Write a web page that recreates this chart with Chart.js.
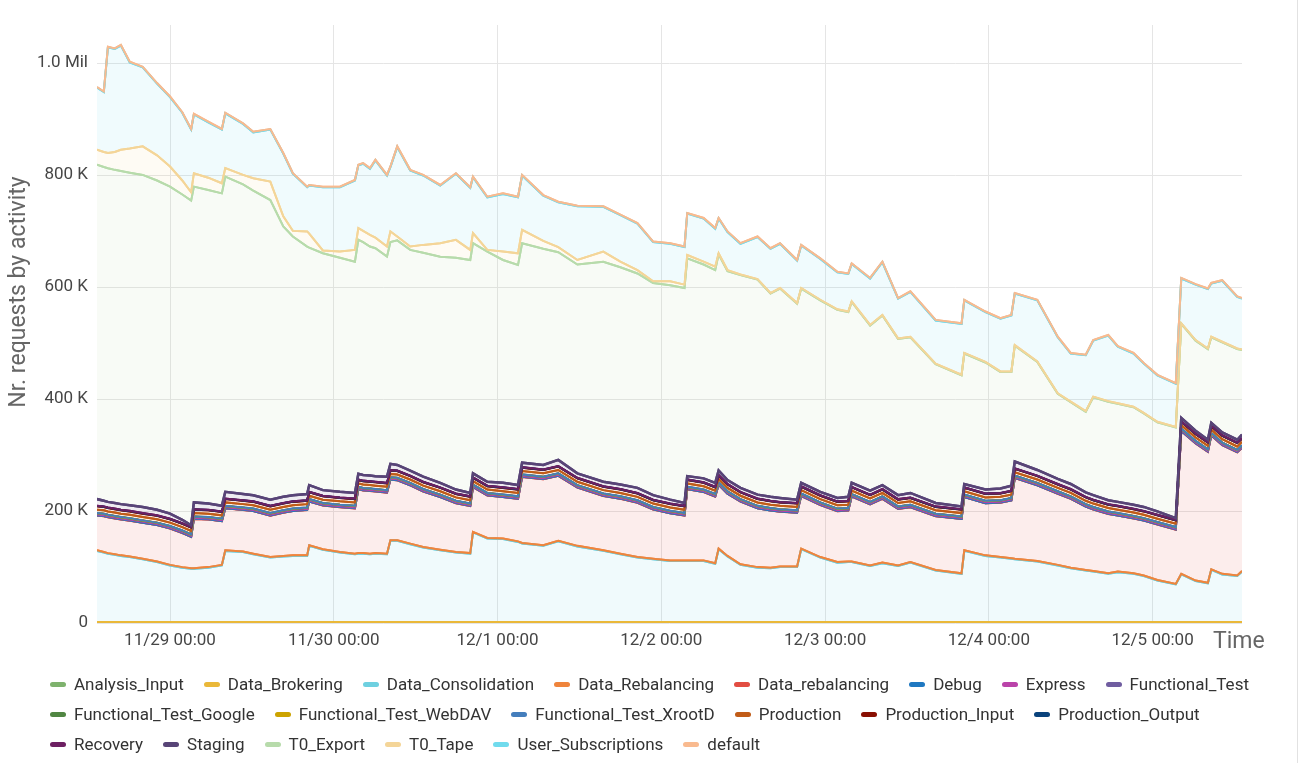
<!DOCTYPE html>
<html>
<head>
<meta charset="utf-8">
<title>Nr. requests by activity</title>
<script src="https://cdn.jsdelivr.net/npm/chart.js@4.4.0/dist/chart.umd.min.js"></script>
<style>
  html, body { margin: 0; padding: 0; background: #fff; overflow: hidden; }
  #wrap { position: relative; width: 1309px; height: 763px; }
  #edge { position: absolute; left: 1297px; top: 0; width: 1px; height: 763px; background: #e2e2e2; }
  #legend { position: absolute; left: 50px; top: 669px; width: 1259px; display: flex; flex-wrap: wrap;
    font: 17px Roboto, sans-serif; color: #333; }
  #legend .item { display: flex; align-items: center; height: 30px; margin-right: 20px; white-space: nowrap; }
  #legend .mark { width: 16px; height: 5px; border-radius: 2.5px; margin-right: 8px; }
</style>
</head>
<body>
<div id="wrap">
  <canvas id="chart" width="1309" height="763"></canvas>
  <div id="legend"></div>
  <div id="edge"></div>
</div>
<script>
// time in hours from 11/29 00:00
const times = [-10.7,-9.7,-9.1,-8.1,-7.2,-5.9,-4.0,-1.9,0,1.8,3.1,3.5,5.6,7.6,8.1,10.7,12.2,14.7,16.6,18.0,
  20.1,20.4,22.4,24.9,27.1,27.6,28.3,29.3,30.1,31.8,32.3,33.3,35.2,37.1,39.6,41.9,44.0,44.4,46.5,48.8,
  51.0,51.6,54.7,56.9,59.7,63.5,66.0,68.5,70.8,73.3,75.4,75.8,78.2,79.9,80.4,81.7,83.6,86.1,88.0,89.4,
  91.9,92.5,95.3,97.8,99.4,99.9,102.6,104.4,106.7,108.5,112.2,116.0,116.4,119.5,121.7,123.3,123.8,127.1,130.1,132.0,
  134.2,135.3,137.5,138.9,141.2,142.7,144.7,147.4,148.2,150.3,152.1,152.6,154.2,156.4,157.1];

const dayTicks = [0, 24, 48, 72, 96, 120, 144];
const dayLabels = ["11/29 00:00", "11/30 00:00", "12/1 00:00", "12/2 00:00", "12/3 00:00", "12/4 00:00", "12/5 00:00"];
const yTicks = [0, 200, 400, 600, 800, 1000];

// values in thousands of requests
const analysisInput = [0.3,0.3,0.3,0.3,0.3,0.3,0.3,0.3,0.3,0.3,0.3,0.3,0.3,0.3,0.3,0.3,0.3,0.3,0.3,0.3,
  0.3,0.3,0.3,0.3,0.3,0.3,0.3,0.3,0.3,0.3,0.3,0.3,0.3,0.3,0.3,0.3,0.3,0.3,0.3,0.3,
  0.3,0.3,0.3,0.3,0.3,0.3,0.3,0.3,0.3,0.3,0.3,0.3,0.3,0.3,0.3,0.3,0.3,0.3,0.3,0.3,
  0.3,0.3,0.3,0.3,0.3,0.3,0.3,0.3,0.3,0.3,0.3,0.3,0.3,0.3,0.3,0.3,0.3,0.3,0.3,0.3,
  0.3,0.3,0.3,0.3,0.3,0.3,0.3,0.3,0.3,0.3,0.3,0.3,0.3,0.3,0.3];
const dataBrokering = [1.5,1.5,1.5,1.5,1.5,1.5,1.5,1.5,1.5,1.5,1.5,1.5,1.5,1.5,1.5,1.5,1.5,1.5,1.5,1.5,
  1.5,1.5,1.5,1.5,1.5,1.5,1.5,1.5,1.5,1.5,1.5,1.5,1.5,1.5,1.5,1.5,1.5,1.5,1.5,1.5,
  1.5,1.5,1.5,1.5,1.5,1.5,1.5,1.5,1.5,1.5,1.5,1.5,1.5,1.5,1.5,1.5,1.5,1.5,1.5,1.5,
  1.5,1.5,1.5,1.5,1.5,1.5,1.5,1.5,1.5,1.5,1.5,1.5,1.5,1.5,1.5,1.5,1.5,1.5,1.5,1.5,
  1.5,1.5,1.5,1.5,1.5,1.5,1.5,1.5,1.5,1.5,1.5,1.5,1.5,1.5,1.5];
const dataConsolidation = [127,124,122,120,118,116,112,107,101,97,95,95,97,101,127,125,121,115,117,118,
  118,136,129,124,121,122,122,121,122,121,145,145,139,133,128,124,122,160,149,148,
  143,140,136,144,135,127,121,115,112,109,109,109,109,104,130,117,102,97,96,98,
  98,130,115,106,107,107,100,105,100,106,92,86,127,118,115,113,112,108,101,96,
  92,90,86,89,86,82,74,67,85,73,69,93,85,82,90];
const dataRebalancingUpper = [1,1,1,1,1,1,1,1,1,1,1,1,1,1,1,1,1,1,1,1,
  1,1,1,1,1,1,1,1,1,1,1,1,1,1,1,1,1,1,1,1,
  1,1,1,1,1,1,1,1,1,1,1,1,1,1,1,1,1,1,1,1,
  1,1,1,1,1,1,1,1,1,1,1,1,1,1,1,1,1,1,1,1,
  1,1,1,1,1,1,1,1,1,1,1,1,1,1,1];
const dataRebalancingLower = [62,64,64,64,64,64,64,65,65,61,56,88,85,78,75,74,76,74,77,79,
  81,78,78,80,81,114,112,112,110,109,108,107,104,99,94,87,84,80,76,74,
  76,118,118,116,104,97,98,97,88,84,80,127,122,119,114,111,112,105,102,98,
  96,94,93,91,91,116,109,114,101,98,96,97,95,93,97,103,144,135,127,123,
  113,110,106,100,98,98,99,97,255,245,234,239,230,220,220];
const debug = [0.3,0.3,0.3,0.3,0.3,0.3,0.3,0.3,0.3,0.3,0.3,0.3,0.3,0.3,0.3,0.3,0.3,0.3,0.3,0.3,
  0.3,0.3,0.3,0.3,0.3,0.3,0.3,0.3,0.3,0.3,0.3,0.3,0.3,0.3,0.3,0.3,0.3,0.3,0.3,0.3,
  0.3,0.3,0.3,0.3,0.3,0.3,0.3,0.3,0.3,0.3,0.3,0.3,0.3,0.3,0.3,0.3,0.3,0.3,0.3,0.3,
  0.3,0.3,0.3,0.3,0.3,0.3,0.3,0.3,0.3,0.3,0.3,0.3,0.3,0.3,0.3,0.3,0.3,0.3,0.3,0.3,
  0.3,0.3,0.3,0.3,0.3,0.3,0.3,0.3,0.3,0.3,0.3,0.3,0.3,0.3,0.3];
const express = [1.5,1.5,1.5,1.5,1.5,1.5,1.5,1.5,1.5,1.5,1.5,1.5,1.5,1.5,1.5,1.5,1.5,1.5,1.5,1.5,
  1.5,1.5,1.5,1.5,1.5,1.5,1.5,1.5,1.5,1.5,1.5,1.5,1.5,1.5,1.5,1.5,1.5,1.5,1.5,1.5,
  1.5,1.5,1.5,1.5,1.5,1.5,1.5,1.5,1.5,1.5,1.5,1.5,1.5,1.5,1.5,1.5,1.5,1.5,1.5,1.5,
  1.5,1.5,1.5,1.5,1.5,1.5,1.5,1.5,1.5,1.5,1.5,1.5,1.5,1.5,1.5,1.5,1.5,1.5,1.5,1.5,
  1.5,1.5,1.5,1.5,1.5,1.5,1.5,1.5,1.5,1.5,1.5,1.5,1.5,1.5,1.5];
const functionalTest = [2,2,2,2,2,2,2,2,2,2,2,2,2,2,2,2,2,2,2,2,
  2,2,2,2,2,2,2,2,2,2,2,2,2,2,2,2,2,2,2,2,
  2,2,2,2,2,2,2,2,2,2,2,2,2,2,2,2,2,2,2,2,
  2,2,2,2,2,2,2,2,2,2,2,2,2,2,2,2,2,2,2,2,
  2,2,2,2,2,2,2,2,2,2,2,2,2,2,2];
const ftGoogle = [0.2,0.2,0.2,0.2,0.2,0.2,0.2,0.2,0.2,0.2,0.2,0.2,0.2,0.2,0.2,0.2,0.2,0.2,0.2,0.2,
  0.2,0.2,0.2,0.2,0.2,0.2,0.2,0.2,0.2,0.2,0.2,0.2,0.2,0.2,0.2,0.2,0.2,0.2,0.2,0.2,
  0.2,0.2,0.2,0.2,0.2,0.2,0.2,0.2,0.2,0.2,0.2,0.2,0.2,0.2,0.2,0.2,0.2,0.2,0.2,0.2,
  0.2,0.2,0.2,0.2,0.2,0.2,0.2,0.2,0.2,0.2,0.2,0.2,0.2,0.2,0.2,0.2,0.2,0.2,0.2,0.2,
  0.2,0.2,0.2,0.2,0.2,0.2,0.2,0.2,0.2,0.2,0.2,0.2,0.2,0.2,0.2];
const ftWebdav = [0.2,0.2,0.2,0.2,0.2,0.2,0.2,0.2,0.2,0.2,0.2,0.2,0.2,0.2,0.2,0.2,0.2,0.2,0.2,0.2,
  0.2,0.2,0.2,0.2,0.2,0.2,0.2,0.2,0.2,0.2,0.2,0.2,0.2,0.2,0.2,0.2,0.2,0.2,0.2,0.2,
  0.2,0.2,0.2,0.2,0.2,0.2,0.2,0.2,0.2,0.2,0.2,0.2,0.2,0.2,0.2,0.2,0.2,0.2,0.2,0.2,
  0.2,0.2,0.2,0.2,0.2,0.2,0.2,0.2,0.2,0.2,0.2,0.2,0.2,0.2,0.2,0.2,0.2,0.2,0.2,0.2,
  0.2,0.2,0.2,0.2,0.2,0.2,0.2,0.2,0.2,0.2,0.2,0.2,0.2,0.2,0.2];
const ftXrootd = [0.3,0.3,0.3,0.3,0.3,0.3,0.3,0.3,0.3,0.3,0.3,0.3,0.3,0.3,0.3,0.3,0.3,0.3,0.3,0.3,
  0.3,0.3,0.3,0.3,0.3,0.3,0.3,0.3,0.3,0.3,0.3,0.3,0.3,0.3,0.3,0.3,0.3,0.3,0.3,0.3,
  0.3,0.3,0.3,0.3,0.3,0.3,0.3,0.3,0.3,0.3,0.3,0.3,0.3,0.3,0.3,0.3,0.3,0.3,0.3,0.3,
  0.3,0.3,0.3,0.3,0.3,0.3,0.3,0.3,0.3,0.3,0.3,0.3,0.3,0.3,0.3,0.3,0.3,0.3,0.3,0.3,
  0.3,0.3,0.3,0.3,0.3,0.3,0.3,0.3,0.3,0.3,0.3,0.3,0.3,0.3,0.3];
const production = [6,6,6,6,6,6,6,6,6,6,6,6,6,6,6,6,6,6,6,6,
  6,6,6,6,6,6,6,6,6,6,6,6,6,6,6,6,6,6,6,6,
  6,6,6,6,6,6,6,6,6,6,6,6,6,6,6,6,6,6,6,6,
  6,6,6,6,6,6,6,6,6,6,6,6,6,6,6,6,6,6,6,6,
  6,6,6,6,6,6,6,6,6,6,6,6,6,6,6];
const productionInput = [6,6,6,6,6,6,6,6,6,6,6,6,6,6,6,6,6,6,6,6,
  6,6,6,6,6,6,6,6,6,6,6,6,6,6,6,6,6,6,6,6,
  6,6,6,6,6,6,6,6,6,6,6,6,6,6,6,6,6,6,6,6,
  6,6,6,6,6,6,6,6,6,6,6,6,6,6,6,6,6,6,6,6,
  6,6,6,6,6,6,6,6,6,6,6,6,6,6,6];
const productionOutput = [0.5,0.5,0.5,0.5,0.5,0.5,0.5,0.5,0.5,0.5,0.5,0.5,0.5,0.5,0.5,0.5,0.5,0.5,0.5,0.5,
  0.5,0.5,0.5,0.5,0.5,0.5,0.5,0.5,0.5,0.5,0.5,0.5,0.5,0.5,0.5,0.5,0.5,0.5,0.5,0.5,
  0.5,0.5,0.5,0.5,0.5,0.5,0.5,0.5,0.5,0.5,0.5,0.5,0.5,0.5,0.5,0.5,0.5,0.5,0.5,0.5,
  0.5,0.5,0.5,0.5,0.5,0.5,0.5,0.5,0.5,0.5,0.5,0.5,0.5,0.5,0.5,0.5,0.5,0.5,0.5,0.5,
  0.5,0.5,0.5,0.5,0.5,0.5,0.5,0.5,0.5,0.5,0.5,0.5,0.5,0.5,0.5];
const recovery = [0.5,0.5,0.5,0.5,0.5,0.5,0.5,0.5,0.5,0.5,0.5,0.5,0.5,0.5,0.5,0.5,0.5,0.5,0.5,0.5,
  0.5,0.5,0.5,0.5,0.5,0.5,0.5,0.5,0.5,0.5,0.5,0.5,0.5,0.5,0.5,0.5,0.5,0.5,0.5,0.5,
  0.5,0.5,0.5,0.5,0.5,0.5,0.5,0.5,0.5,0.5,0.5,0.5,0.5,0.5,0.5,0.5,0.5,0.5,0.5,0.5,
  0.5,0.5,0.5,0.5,0.5,0.5,0.5,0.5,0.5,0.5,0.5,0.5,0.5,0.5,0.5,0.5,0.5,0.5,0.5,0.5,
  0.5,0.5,0.5,0.5,0.5,0.5,0.5,0.5,0.5,0.5,0.5,0.5,0.5,0.5,0.5];
const staging = [12,10,10,10,10,10,11,10,9,6,3,12,11,10,12,11,11,11,11,11,
  11,12,10,10,10,10,10,10,10,11,11,10,9,9,8,7,6,7,7,8,
  7,8,8,11,8,8,8,9,8,7,5,6,7,7,8,7,7,7,7,7,
  6,6,6,6,7,7,7,7,7,8,6,5,6,7,8,9,12,10,9,9,
  8,8,7,7,7,7,6,3,6,5,4,5,5,5,6];
const t0Export = [597,596,596,595,595,594,593,588,584,581,580,564,560,558,563,553,544,535,483,462,
  442,424,423,418,413,418,416,409,407,393,396,401,394,400,404,414,416,411,411,398,
  393,392,386,371,373,393,388,383,379,383,384,389,382,380,386,373,380,384,363,374,
  350,347,342,336,330,323,295,303,279,278,248,234,233,227,208,203,207,193,152,146,
  144,175,176,175,174,167,159,162,168,161,162,153,161,162,151];
const t0Tape = [27,27,27,32,38,43,51,45,36,25,15,24,22,18,15,17,22,33,18,10,
  27,25,5,11,21,21,20,21,19,18,19,7,6,14,24,32,18,18,3,15,
  21,24,14,9,8,18,10,6,3,7,6,6,5,6,2,2,1,1,1,1,
  1,1,1,1,1,1,1,1,1,1,1,1,1,1,1,1,1,1,1,1,
  1,1,1,1,1,1,1,1,1,1,1,1,1,1,1];
const userSubscriptions = [111,107,189,184,186,154,141,128,124,121,112,105,99,96,98,91,82,93,112,102,
  79,86,113,115,124,112,120,118,138,127,115,160,136,124,103,118,111,100,94,103,
  100,97,81,80,96,80,83,83,70,67,67,74,77,68,62,68,55,75,79,79,
  76,76,73,66,67,67,83,94,71,80,77,91,94,89,94,100,92,109,100,86,
  100,100,117,101,95,88,83,77,80,99,106,95,109,92,91];
const defaultAct = [1,1,1,1,1,1,1,1,1,1,1,1,1,1,1,1,1,1,1,1,
  1,1,1,1,1,1,1,1,1,1,1,1,1,1,1,1,1,1,1,1,
  1,1,1,1,1,1,1,1,1,1,1,1,1,1,1,1,1,1,1,1,
  1,1,1,1,1,1,1,1,1,1,1,1,1,1,1,1,1,1,1,1,
  1,1,1,1,1,1,1,1,1,1,1,1,1,1,1];

const seriesNames = ["Analysis_Input", "Data_Brokering", "Data_Consolidation", "Data_Rebalancing",
  "Data_rebalancing", "Debug", "Express", "Functional_Test", "Functional_Test_Google",
  "Functional_Test_WebDAV", "Functional_Test_XrootD", "Production", "Production_Input",
  "Production_Output", "Recovery", "Staging", "T0_Export", "T0_Tape", "User_Subscriptions", "default"];
const seriesValues = [analysisInput, dataBrokering, dataConsolidation, dataRebalancingUpper,
  dataRebalancingLower, debug, express, functionalTest, ftGoogle, ftWebdav, ftXrootd, production,
  productionInput, productionOutput, recovery, staging, t0Export, t0Tape, userSubscriptions, defaultAct];
const seriesColors = ["#7EB26D", "#EAB839", "#6ED0E0", "#EF843C", "#E24D42", "#1F78C1", "#BA43A9",
  "#705DA0", "#508642", "#CCA300", "#447EBC", "#C15C17", "#890F02", "#0A437C", "#6D1F62",
  "#584477", "#B7DBAB", "#F4D598", "#70DBED", "#F9BA8F"];

function fade(hex, a) {
  const n = parseInt(hex.slice(1), 16);
  return `rgba(${n >> 16}, ${(n >> 8) & 255}, ${n & 255}, ${a})`;
}

const datasets = seriesNames.map((name, i) => ({
  label: name,
  data: seriesValues[i].map((v, j) => ({ x: times[j], y: v })),
  borderColor: seriesColors[i],
  backgroundColor: fade(seriesColors[i], 0.1),
  borderWidth: name === "Staging" ? 2.5 : 2,
  fill: i === 0 ? "origin" : "-1",
  pointRadius: 0,
  tension: 0
}));

// Chart.js paints dataset 0 last; Grafana paints later series on top,
// so stroke the line elements again in series order
const lineOrder = {
  id: "lineOrder",
  afterDatasetsDraw(chart) {
    const { ctx, chartArea } = chart;
    ctx.save();
    ctx.beginPath();
    ctx.rect(chartArea.left, chartArea.top - 2, chartArea.width, chartArea.height + 2);
    ctx.clip();
    chart.data.datasets.forEach((ds, i) => {
      chart.getDatasetMeta(i).dataset.draw(ctx, chartArea);
    });
    ctx.restore();
  }
};

// axis captions drawn like Grafana: y title left, "Time" right of the x labels
const axisCaptions = {
  id: "axisCaptions",
  afterDraw(chart) {
    const { ctx, chartArea } = chart;
    ctx.save();
    ctx.fillStyle = "#666";
    ctx.font = "23px Roboto";
    ctx.textBaseline = "middle";
    ctx.textAlign = "center";
    ctx.translate(19, (chartArea.top + chartArea.bottom) / 2 - 32);
    ctx.rotate(-Math.PI / 2);
    ctx.fillText("Nr. requests by activity", 0, 0);
    ctx.restore();
    ctx.save();
    ctx.fillStyle = "#666";
    ctx.font = "23px Roboto";
    ctx.textBaseline = "middle";
    ctx.textAlign = "left";
    ctx.fillText("Time", chartArea.right - 29, chartArea.bottom + 19);
    ctx.restore();
  }
};

const chart = new Chart(document.getElementById("chart"), {
  type: "line",
  data: { datasets },
  plugins: [lineOrder, axisCaptions],
  options: {
    responsive: false,
    animation: false,
    devicePixelRatio: 1,
    layout: { padding: { top: 25, left: 35, right: 0, bottom: 101 } },
    plugins: {
      tooltip: { enabled: false },
      legend: { display: false }
    },
    scales: {
      x: {
        type: "linear",
        min: -10.7,
        max: 157.1,
        afterBuildTicks: axis => { axis.ticks = dayTicks.map(v => ({ value: v })); },
        afterFit: axis => { axis.height = 39; },
        ticks: {
          autoSkip: false,
          maxRotation: 0,
          padding: 8,
          color: "#464646",
          font: { family: "Roboto", size: 17 },
          callback: v => dayLabels[dayTicks.indexOf(v)]
        },
        grid: { color: "#e5e5e5", drawTicks: false },
        border: { display: false }
      },
      y: {
        stacked: true,
        min: 0,
        max: 1068,
        afterBuildTicks: axis => { axis.ticks = yTicks.map(v => ({ value: v })); },
        afterFit: axis => { axis.width = 62; },
        ticks: {
          padding: 9,
          color: "#464646",
          font: { family: "Roboto", size: 17 },
          callback: v => v === 0 ? "0" : v >= 1000 ? (v / 1000).toFixed(1) + " Mil" : v + " K"
        },
        grid: { color: "#e5e5e5", drawTicks: false },
        border: { display: false }
      },
      yRight: {
        position: "right",
        display: true,
        afterFit: axis => { axis.width = 67; },
        ticks: { display: false },
        grid: { display: false },
        border: { display: false }
      }
    }
  }
});

// legend below the plot, same items and colours as the datasets
const legendBox = document.getElementById("legend");
chart.data.datasets.forEach(ds => {
  const item = document.createElement("div");
  item.className = "item";
  const mark = document.createElement("span");
  mark.className = "mark";
  mark.style.background = ds.borderColor;
  const label = document.createElement("span");
  label.textContent = ds.label;
  item.appendChild(mark);
  item.appendChild(label);
  legendBox.appendChild(item);
});
</script>
</body>
</html>
